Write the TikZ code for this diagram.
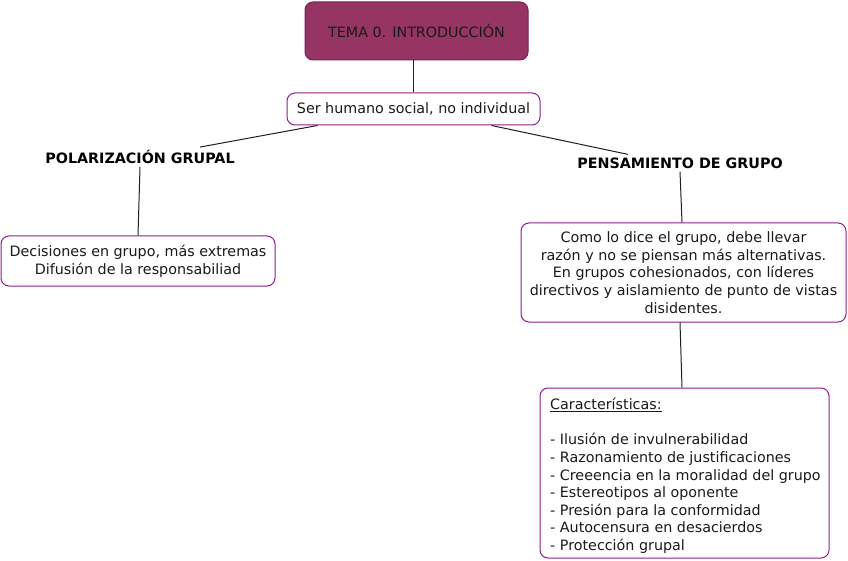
\documentclass[tikz,border=0pt]{standalone}
\usepackage{fontspec}
\setmainfont{DejaVu Sans}
\usetikzlibrary{calc}
\definecolor{boxline}{HTML}{8E1D8E}
\definecolor{temafill}{HTML}{963463}
\definecolor{temaline}{HTML}{7A1F5E}
\definecolor{txt}{HTML}{1A1A1A}
\definecolor{conline}{HTML}{1E1E1E}
\begin{document}
\begin{tikzpicture}[x=1pt,y=-1pt,
  font=\fontsize{14.3}{17.6}\selectfont,
  wbox/.style={draw=boxline, line width=1pt, rounded corners=8pt, fill=white, inner sep=0pt, text=txt, align=center},
  tema/.style={draw=temaline, line width=1pt, rounded corners=8pt, fill=temafill, inner sep=0pt, text=txt},
  head/.style={font=\fontsize{14.3}{17.6}\selectfont\bfseries, text=black, inner sep=3pt},
  conn/.style={draw=conline, line width=1pt}]
\useasboundingbox (0,0) rectangle (848,561);
\node[tema, minimum width=223pt, minimum height=58pt] (tema) at (416.5,31) {TEMA 0. INTRODUCCIÓN};
\node[wbox, minimum width=253pt, minimum height=32pt] (ser) at (413.5,109) {Ser humano social, no individual};
\node[head] (polar) at (140,157) {POLARIZACIÓN GRUPAL};
\node[head] (pens) at (680,163) {PENSAMIENTO DE GRUPO};
\node[wbox, minimum width=274pt, minimum height=50pt] (dec) at (138,261) {Decisiones en grupo, más extremas\\Difusión de la responsabiliad};
\node[wbox, minimum width=325pt, minimum height=99pt] (como) at (683.5,272.5) {Como lo dice el grupo, debe llevar\\razón y no se piensan más alternativas.\\En grupos cohesionados, con líderes\\directivos y aislamiento de punto de vistas\\disidentes.};
\node[wbox, minimum width=289pt, minimum height=170pt] (car) at (684.5,473) {};
\node[anchor=north west, inner sep=0pt, align=left, text=txt] (cartext) at (550,398) {\underline{Características:}\\[17.6pt]- Ilusión de invulnerabilidad\\- Razonamiento de justificaciones\\- Creeencia en la moralidad del grupo\\- Estereotipos al oponente\\- Presión para la conformidad\\- Autocensura en desacierdos\\- Protección grupal};
\draw[conn] (tema.south -| ser.north) -- (ser.north);
\draw[conn] ([xshift=31pt]ser.south west) -- ([xshift=60pt]polar.north);
\draw[conn] ([xshift=205pt]ser.south west) -- ([xshift=-52pt]pens.north);
\draw[conn] (polar.south) -- (dec.north);
\draw[conn] (pens.south) -- ([xshift=-1.5pt]como.north);
\draw[conn] ([xshift=-3.5pt]como.south) -- ([xshift=-2.5pt]car.north);
\end{tikzpicture}
\end{document}
